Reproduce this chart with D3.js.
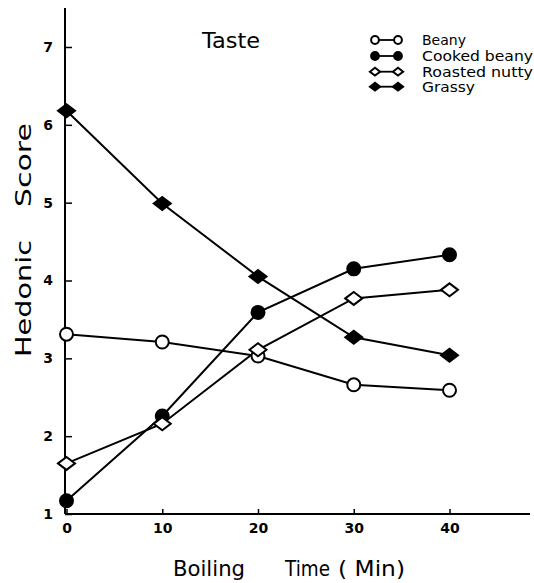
<!DOCTYPE html>
<html><head><meta charset="utf-8">
<script src="https://cdn.jsdelivr.net/npm/d3@7"></script>
<style>
html,body{margin:0;padding:0;background:#fff;}
svg{display:block;}
text{font-family:"DejaVu Sans","Open Sans",sans-serif;fill:#000;}
</style></head>
<body>
<svg id="chart" width="534" height="583"></svg>
<script>
const times = [0, 10, 20, 30, 40];
const beany = [3.31, 3.21, 3.03, 2.66, 2.59];
const cookedBeany = [1.17, 2.26, 3.59, 4.15, 4.33];
const roastedNutty = [1.65, 2.16, 3.11, 3.77, 3.88];
const grassy = [6.18, 4.99, 4.05, 3.27, 3.04];
const seriesNames = ["Beany", "Cooked beany", "Roasted nutty", "Grassy"];
const xTicks = [0, 10, 20, 30, 40];
const yTicks = [1, 2, 3, 4, 5, 6, 7];
const title = "Taste";
const xTitleWords = ["Boiling", "Time", "( Min)"];
const yTitleWords = ["Hedonic", "Score"];

const series = [
  {name: seriesNames[0], values: beany, shape: "circle", filled: false},
  {name: seriesNames[1], values: cookedBeany, shape: "circle", filled: true},
  {name: seriesNames[2], values: roastedNutty, shape: "diamond", filled: false},
  {name: seriesNames[3], values: grassy, shape: "diamond", filled: true}
];

const svg = d3.select("#chart");
const x = d3.scaleLinear().domain([0, 40]).range([66.5, 449.5]);
const y = d3.scaleLinear().domain([1, 7]).range([514, 47]);
const axisX0 = 65;

// axes
const gx = svg.append("g").attr("transform", `translate(0,${y(1)})`);
gx.call(d3.axisBottom(x).tickValues(xTicks).tickSize(-5).tickPadding(9).tickFormat(d3.format("d")));
gx.select(".domain").remove();
gx.append("line").attr("x1", axisX0).attr("x2", 530).attr("y1", 0).attr("y2", 0)
  .attr("stroke", "#000").attr("stroke-width", 2);
gx.selectAll(".tick line").attr("stroke", "#000").attr("stroke-width", 1.5);
gx.selectAll(".tick text").attr("font-size", 14).attr("font-weight", "bold").attr("dy", "0.71em");

const gy = svg.append("g").attr("transform", `translate(${axisX0},0)`);
gy.call(d3.axisLeft(y).tickValues(yTicks).tickSize(-7).tickPadding(12).tickFormat(d3.format("d")));
gy.select(".domain").remove();
gy.append("line").attr("x1", 0).attr("x2", 0).attr("y1", 8).attr("y2", y(1))
  .attr("stroke", "#000").attr("stroke-width", 2);
gy.selectAll(".tick line").attr("stroke", "#000").attr("stroke-width", 1.5);
gy.selectAll(".tick text").attr("font-size", 14).attr("font-weight", "bold");

// lines
const line = d3.line().x((d, i) => x(times[i])).y(d => y(d));
series.forEach(s => {
  svg.append("path").datum(s.values).attr("d", line)
    .attr("fill", "none").attr("stroke", "#000").attr("stroke-width", 2);
});

function drawMarker(g, s, cx, cy, scale) {
  if (s.shape === "circle") {
    g.append("circle").attr("cx", cx).attr("cy", cy).attr("r", 6.5 * scale)
      .attr("fill", s.filled ? "#000" : "#fff").attr("stroke", "#000").attr("stroke-width", 2);
  } else {
    const w = 8.5 * scale, h = 6.5 * scale;
    g.append("path").attr("d", `M${cx - w},${cy}L${cx},${cy - h}L${cx + w},${cy}L${cx},${cy + h}Z`)
      .attr("fill", s.filled ? "#000" : "#fff").attr("stroke", "#000").attr("stroke-width", 2);
  }
}
series.forEach(s => {
  const g = svg.append("g");
  s.values.forEach((v, i) => drawMarker(g, s, x(times[i]), y(v), 1));
});

// title
svg.append("text").attr("x", 231).attr("y", 48).attr("text-anchor", "middle")
  .attr("font-size", 21).attr("textLength", 58).attr("lengthAdjust", "spacingAndGlyphs").text(title);

// legend
const legY = [40, 56, 71.7, 86.7];
const legW = [44, 111, 111, 53];
const leg = svg.append("g");
series.forEach((s, i) => {
  const ly = legY[i];
  leg.append("line").attr("x1", 375).attr("x2", 398).attr("y1", ly).attr("y2", ly)
    .attr("stroke", "#000").attr("stroke-width", 1.8);
  drawMarker(leg, s, 375, ly, 0.6);
  drawMarker(leg, s, 398, ly, 0.6);
  leg.append("text").attr("x", 422).attr("y", ly + 5).attr("font-size", 14)
    .attr("textLength", legW[i]).attr("lengthAdjust", "spacingAndGlyphs").text(s.name);
});

// axis titles
const xtPos = [[173, 72], [285, 45], [338, 67]];
xTitleWords.forEach((w, i) => {
  svg.append("text").attr("x", xtPos[i][0]).attr("y", 576).attr("font-size", 21)
    .attr("textLength", xtPos[i][1]).attr("lengthAdjust", "spacingAndGlyphs").text(w);
});
const ytPos = [[357, 117], [207, 84]];
yTitleWords.forEach((w, i) => {
  svg.append("text").attr("transform", `translate(31,${ytPos[i][0]}) rotate(-90)`)
    .attr("font-size", 21).attr("textLength", ytPos[i][1]).attr("lengthAdjust", "spacingAndGlyphs").text(w);
});
</script>
</body></html>
